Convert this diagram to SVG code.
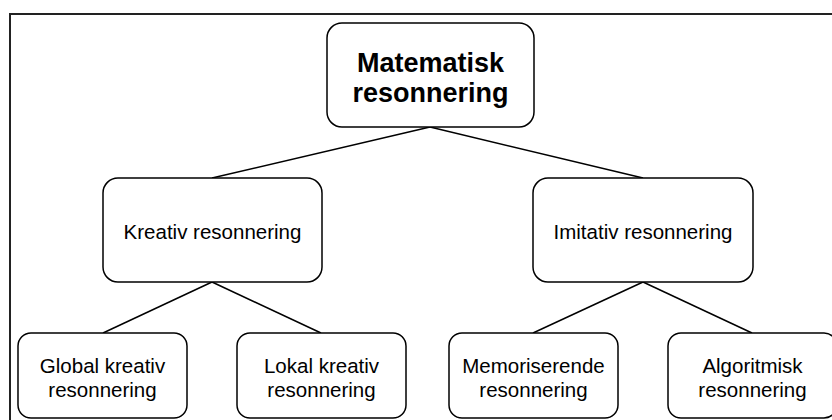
<svg xmlns="http://www.w3.org/2000/svg" width="832" height="420" viewBox="0 0 832 420">
<style>
.box{fill:#fff;stroke:#000;stroke-width:1.5}
.t{font-family:"Liberation Sans",Arial,sans-serif;font-size:20.5px;fill:#000;text-anchor:middle}
.tb{font-family:"Liberation Sans",Arial,sans-serif;font-size:27px;font-weight:bold;fill:#000;text-anchor:middle}
.c{stroke:#000;stroke-width:1.5;fill:none}
</style>
<rect x="0" y="0" width="832" height="420" fill="#fff"/>
<rect x="10" y="14" width="840" height="420" fill="none" stroke="#222" stroke-width="2"/>
<g id="connectors">
<line class="c" x1="430" y1="127" x2="212" y2="178"/>
<line class="c" x1="430" y1="127" x2="643" y2="178"/>
<line class="c" x1="212" y1="282" x2="103" y2="333"/>
<line class="c" x1="212" y1="282" x2="321" y2="333"/>
<line class="c" x1="643" y1="282" x2="533" y2="333"/>
<line class="c" x1="643" y1="282" x2="752" y2="333"/>
</g>
<g id="root">
<rect class="box" x="327" y="23" width="207" height="104" rx="15"/>
<text class="tb" x="430.5" y="72">Matematisk</text>
<text class="tb" x="430.5" y="102">resonnering</text>
</g>
<g id="kreativ">
<rect class="box" x="103" y="178" width="219" height="104" rx="15"/>
<text class="t" x="212.5" y="239">Kreativ resonnering</text>
</g>
<g id="imitativ">
<rect class="box" x="533" y="178" width="220" height="104" rx="15"/>
<text class="t" x="643" y="239">Imitativ resonnering</text>
</g>
<g id="global">
<rect class="box" x="18" y="333" width="169" height="85" rx="13"/>
<text class="t" x="102.5" y="373">Global kreativ</text>
<text class="t" x="102.5" y="397">resonnering</text>
</g>
<g id="lokal">
<rect class="box" x="237" y="333" width="169" height="85" rx="13"/>
<text class="t" x="321.5" y="373">Lokal kreativ</text>
<text class="t" x="321.5" y="397">resonnering</text>
</g>
<g id="memoriserende">
<rect class="box" x="449" y="333" width="169" height="85" rx="13"/>
<text class="t" x="533.5" y="373">Memoriserende</text>
<text class="t" x="533.5" y="397">resonnering</text>
</g>
<g id="algoritmisk">
<rect class="box" x="668" y="333" width="169" height="85" rx="13"/>
<text class="t" x="752.5" y="373">Algoritmisk</text>
<text class="t" x="752.5" y="397">resonnering</text>
</g>
</svg>
